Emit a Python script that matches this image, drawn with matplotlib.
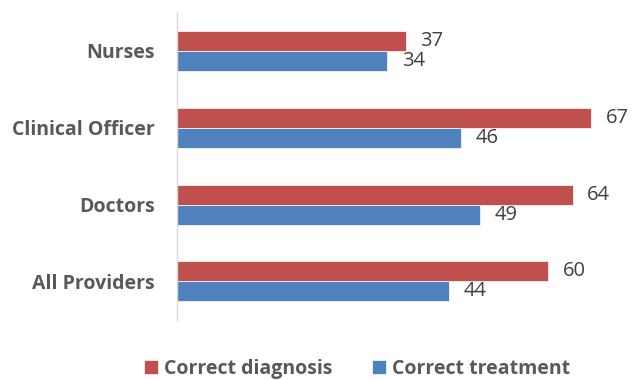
import matplotlib
matplotlib.use("Agg")
import matplotlib.pyplot as plt
import numpy as np

categories = ["Nurses", "Clinical Officer", "Doctors", "All Providers"]
diagnosis = [37, 67, 64, 60]
treatment = [34, 46, 49, 44]
series_names = ["Correct diagnosis", "Correct treatment"]

RED = "#C0504D"
BLUE = "#4F81BD"
TEXT = "#595959"

plt.rcParams["font.family"] = ["Open Sans", "DejaVu Sans"]

fig = plt.figure(figsize=(6.32, 3.8), dpi=100)
ax = fig.add_axes([0.28, 0.158, 0.685, 0.81])

y = np.arange(len(categories))
h = 0.26
bars_d = ax.barh(y - h / 2, diagnosis, height=h, color=RED, edgecolor="white", linewidth=0.5,
                 label=series_names[0])
bars_t = ax.barh(y + h / 2, treatment, height=h, color=BLUE, edgecolor="white", linewidth=0.5,
                 label=series_names[1])

for bars, vals in ((bars_d, diagnosis), (bars_t, treatment)):
    for b, v in zip(bars, vals):
        ax.annotate(f"{v}", (b.get_width(), b.get_y() + b.get_height() / 2),
                    xytext=(10.5, 0), textcoords="offset points", ha="left", va="center",
                    fontsize=14.5, color="#404040")

ax.set_xlim(0, 70)
ax.set_ylim(len(categories) - 0.5, -0.5)
ax.set_yticks(y)
ax.set_yticklabels(categories, fontsize=14, fontweight="bold", color=TEXT)
ax.tick_params(axis="y", length=0, pad=16)
ax.set_xticks([])
for side in ("top", "right", "bottom"):
    ax.spines[side].set_visible(False)
ax.spines["left"].set_color("#D9D9D9")
ax.spines["left"].set_linewidth(1.0)

leg = fig.legend(handles=[bars_d, bars_t], labels=series_names, loc="center",
                 bbox_to_anchor=(0.565, 0.03), ncol=2, frameon=False,
                 prop={"size": 14, "weight": "bold"}, handlelength=0.72,
                 handleheight=0.72, handletextpad=0.35, columnspacing=2.0)
for t in leg.get_texts():
    t.set_color(TEXT)

fig.savefig("out.png", dpi=100)
